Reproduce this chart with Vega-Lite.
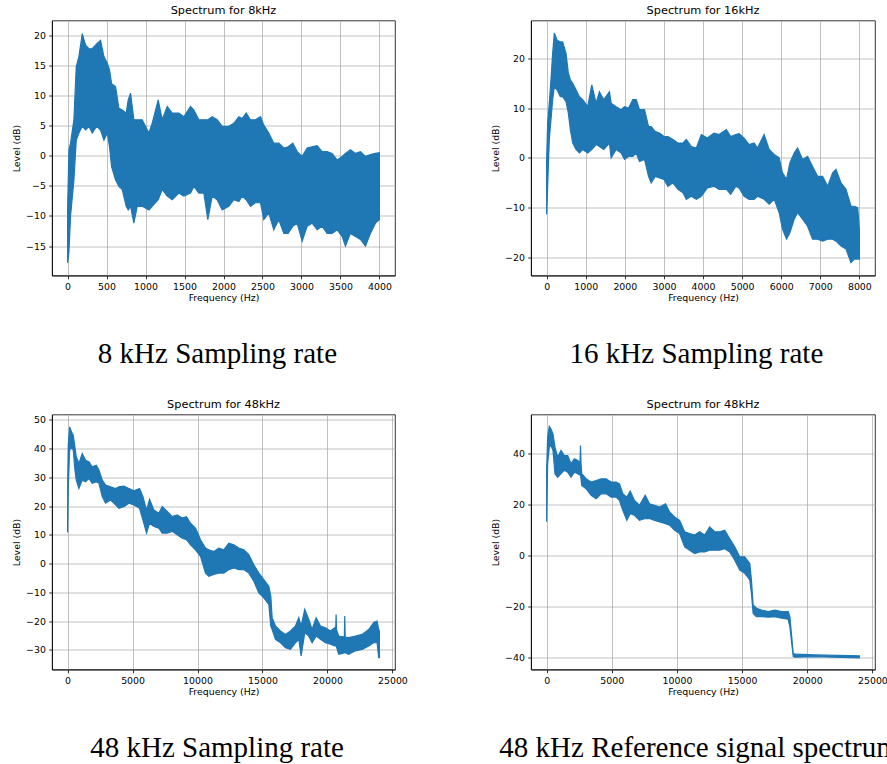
{
"$schema": "https://vega.github.io/schema/vega-lite/v6.json",
"padding": {"left": 11, "top": 4.5, "right": 0, "bottom": 0},
"background": "white",
"config": {
  "font": "DejaVu Sans",
  "view": {"stroke": "#000", "strokeWidth": 0.8},
  "axis": {"labelFont": "DejaVu Sans", "labelFontSize": 9.4, "labelColor": "#000", "titleFont": "DejaVu Sans", "titleFontSize": 9.4, "titleFontWeight": "normal", "titleColor": "#000", "tickColor": "#000", "tickSize": 3.3, "tickWidth": 0.8, "domainColor": "#000", "domainWidth": 0.8, "gridColor": "#b0b0b0", "gridWidth": 0.8, "labelPadding": 3.3, "grid": true, "labelFlush": false, "labelOverlap": false},
  "axisY": {"titlePadding": 3.8},
  "axisX": {"titlePadding": 2.5},
  "title": {"font": "DejaVu Sans", "fontSize": 11.3, "fontWeight": "normal", "color": "#000", "offset": 4.3, "frame": "group", "anchor": "middle"},
  "area": {"color": "#1f77b4", "opacity": 1}
},
"datasets": {
"a": [{"f":0,"lo":-17.8,"hi":-9},{"f":17,"lo":-16,"hi":1.0},{"f":38,"lo":-10,"hi":2.1},{"f":81,"lo":-4,"hi":6},{"f":111,"lo":2.6,"hi":14.8},{"f":145,"lo":3.8,"hi":16.5},{"f":188,"lo":4.9,"hi":20.3},{"f":231,"lo":4.3,"hi":18.4},{"f":274,"lo":4.9,"hi":17.8},{"f":316,"lo":3.8,"hi":17.8},{"f":372,"lo":4.9,"hi":18.6},{"f":423,"lo":4.3,"hi":19.2},{"f":466,"lo":2.6,"hi":16.5},{"f":509,"lo":3.8,"hi":15.4},{"f":538,"lo":1.5,"hi":14.3},{"f":564,"lo":-1.8,"hi":12.0},{"f":615,"lo":-4.0,"hi":11.5},{"f":658,"lo":-5.1,"hi":7.9},{"f":701,"lo":-5.6,"hi":7.6},{"f":752,"lo":-8.4,"hi":7.1},{"f":778,"lo":-9.0,"hi":9.3},{"f":808,"lo":-8.4,"hi":10.4},{"f":850,"lo":-11.2,"hi":6.0},{"f":893,"lo":-8.4,"hi":6.0},{"f":957,"lo":-8.4,"hi":6.0},{"f":1043,"lo":-9.0,"hi":3.8},{"f":1085,"lo":-8.4,"hi":5.4},{"f":1162,"lo":-7.3,"hi":9.3},{"f":1214,"lo":-5.6,"hi":6.0},{"f":1278,"lo":-6.7,"hi":8.2},{"f":1342,"lo":-7.3,"hi":7.1},{"f":1427,"lo":-6.2,"hi":7.1},{"f":1491,"lo":-6.7,"hi":6.5},{"f":1577,"lo":-6.2,"hi":8.2},{"f":1620,"lo":-5.1,"hi":7.6},{"f":1684,"lo":-6.2,"hi":6.0},{"f":1748,"lo":-6.2,"hi":6.0},{"f":1799,"lo":-10.6,"hi":6.0},{"f":1855,"lo":-6.7,"hi":6.5},{"f":1919,"lo":-7.3,"hi":6.0},{"f":1983,"lo":-9.0,"hi":4.9},{"f":2068,"lo":-8.4,"hi":4.9},{"f":2132,"lo":-7.3,"hi":5.4},{"f":2197,"lo":-7.6,"hi":6.5},{"f":2239,"lo":-6.7,"hi":6.2},{"f":2291,"lo":-7.3,"hi":7.1},{"f":2346,"lo":-8.4,"hi":6.0},{"f":2410,"lo":-7.8,"hi":6.0},{"f":2474,"lo":-7.8,"hi":6.5},{"f":2517,"lo":-10.6,"hi":5.1},{"f":2581,"lo":-9.5,"hi":3.8},{"f":2645,"lo":-12.3,"hi":2.1},{"f":2709,"lo":-10.6,"hi":2.1},{"f":2774,"lo":-12.9,"hi":1.3},{"f":2829,"lo":-12.9,"hi":1.5},{"f":2889,"lo":-11.7,"hi":2.1},{"f":2945,"lo":-11.2,"hi":0.7},{"f":3009,"lo":-14.2,"hi":-0.1},{"f":3073,"lo":-11.7,"hi":1.3},{"f":3137,"lo":-11.2,"hi":1.5},{"f":3201,"lo":-12.3,"hi":1.7},{"f":3265,"lo":-11.7,"hi":0.7},{"f":3329,"lo":-12.9,"hi":0.7},{"f":3393,"lo":-12.9,"hi":0.4},{"f":3458,"lo":-12.3,"hi":-0.7},{"f":3522,"lo":-13.4,"hi":-0.1},{"f":3564,"lo":-15.0,"hi":0.4},{"f":3628,"lo":-12.9,"hi":1.0},{"f":3693,"lo":-13.4,"hi":0.4},{"f":3757,"lo":-13.9,"hi":0.7},{"f":3821,"lo":-15.0,"hi":-0.1},{"f":3885,"lo":-12.9,"hi":0.2},{"f":3949,"lo":-11.2,"hi":0.4},{"f":4000,"lo":-10.6,"hi":0.5}],
"b": [{"f":0,"lo":-11.3,"hi":-0.3},{"f":26,"lo":-5.7,"hi":7.0},{"f":68,"lo":3.7,"hi":11.0},{"f":111,"lo":7.7,"hi":15.7},{"f":154,"lo":11.7,"hi":21.0},{"f":197,"lo":14.3,"hi":25.1},{"f":265,"lo":13.7,"hi":23.7},{"f":350,"lo":12.3,"hi":23.3},{"f":410,"lo":12.3,"hi":23.3},{"f":496,"lo":11.3,"hi":21.0},{"f":556,"lo":9.0,"hi":17.0},{"f":607,"lo":5.7,"hi":15.7},{"f":667,"lo":3.0,"hi":15.0},{"f":752,"lo":1.7,"hi":13.7},{"f":838,"lo":1.0,"hi":12.3},{"f":923,"lo":1.7,"hi":11.7},{"f":1051,"lo":1.0,"hi":10.3},{"f":1154,"lo":1.7,"hi":14.7},{"f":1265,"lo":2.7,"hi":11.0},{"f":1350,"lo":2.3,"hi":13.3},{"f":1462,"lo":1.7,"hi":11.7},{"f":1607,"lo":3.0,"hi":13.3},{"f":1650,"lo":0,"hi":11.0},{"f":1778,"lo":1.7,"hi":10.3},{"f":1906,"lo":1.0,"hi":9.7},{"f":1991,"lo":-0.3,"hi":10.3},{"f":2094,"lo":0.3,"hi":10.0},{"f":2205,"lo":0.3,"hi":11.7},{"f":2291,"lo":1.0,"hi":11.7},{"f":2376,"lo":-0.7,"hi":9.7},{"f":2504,"lo":-0.3,"hi":9.7},{"f":2607,"lo":-3.7,"hi":6.3},{"f":2675,"lo":-5.0,"hi":6.3},{"f":2778,"lo":-3.7,"hi":5.3},{"f":2889,"lo":-4.0,"hi":5.0},{"f":3000,"lo":-4.3,"hi":4.3},{"f":3103,"lo":-5.7,"hi":4.3},{"f":3231,"lo":-5.0,"hi":3.7},{"f":3359,"lo":-6.3,"hi":3.0},{"f":3487,"lo":-7.0,"hi":3.0},{"f":3573,"lo":-8.3,"hi":3.7},{"f":3701,"lo":-7.7,"hi":2.3},{"f":3829,"lo":-8.3,"hi":2.0},{"f":3957,"lo":-7.7,"hi":4.7},{"f":4111,"lo":-6.0,"hi":4.0},{"f":4282,"lo":-5.7,"hi":5.0},{"f":4410,"lo":-6.3,"hi":4.7},{"f":4598,"lo":-6.3,"hi":5.7},{"f":4709,"lo":-7.3,"hi":4.3},{"f":4838,"lo":-5.7,"hi":4.7},{"f":4923,"lo":-6.0,"hi":4.9},{"f":5051,"lo":-7.7,"hi":4.0},{"f":5179,"lo":-8.3,"hi":2.7},{"f":5308,"lo":-8.3,"hi":3.0},{"f":5393,"lo":-7.7,"hi":2.0},{"f":5564,"lo":-8.3,"hi":4.7},{"f":5692,"lo":-9.3,"hi":1.7},{"f":5821,"lo":-8.3,"hi":0.7},{"f":5949,"lo":-11.0,"hi":0},{"f":6034,"lo":-14.3,"hi":-3.0},{"f":6137,"lo":-16.3,"hi":-4.3},{"f":6222,"lo":-15.0,"hi":-1.0},{"f":6333,"lo":-12.3,"hi":1.0},{"f":6419,"lo":-11.0,"hi":2.0},{"f":6547,"lo":-12.3,"hi":-0.3},{"f":6675,"lo":-13.7,"hi":0.3},{"f":6803,"lo":-16.3,"hi":-1.7},{"f":6932,"lo":-16.3,"hi":-3.7},{"f":7060,"lo":-16.7,"hi":-3.7},{"f":7188,"lo":-16.3,"hi":-5.7},{"f":7316,"lo":-16.3,"hi":-3.0},{"f":7402,"lo":-16.7,"hi":-2.3},{"f":7530,"lo":-17.7,"hi":-5.0},{"f":7658,"lo":-18.3,"hi":-6.3},{"f":7786,"lo":-21.0,"hi":-9.7},{"f":7872,"lo":-20.3,"hi":-9.7},{"f":7957,"lo":-20.3,"hi":-10.0},{"f":8000,"lo":-20.3,"hi":-14.3}],
"c": [{"f":0,"lo":10.8,"hi":14},{"f":10,"lo":12,"hi":29},{"f":51,"lo":25.6,"hi":41.1},{"f":154,"lo":39.4,"hi":47.5},{"f":308,"lo":40.5,"hi":45.7},{"f":436,"lo":39.4,"hi":44.6},{"f":564,"lo":32.5,"hi":40.5},{"f":667,"lo":29.0,"hi":37.1},{"f":872,"lo":26.1,"hi":34.8},{"f":1128,"lo":29.0,"hi":38.2},{"f":1385,"lo":28.4,"hi":35.9},{"f":1641,"lo":29.6,"hi":35.4},{"f":1897,"lo":27.9,"hi":33.6},{"f":2205,"lo":28.4,"hi":34.2},{"f":2410,"lo":28.0,"hi":32.5},{"f":2667,"lo":23.3,"hi":29.0},{"f":2923,"lo":21.0,"hi":27.3},{"f":3308,"lo":22.1,"hi":26.7},{"f":3692,"lo":20.4,"hi":26.1},{"f":3949,"lo":19.2,"hi":26.7},{"f":4333,"lo":19.8,"hi":26.9},{"f":4718,"lo":21.0,"hi":26.1},{"f":5103,"lo":20.4,"hi":25.3},{"f":5538,"lo":19.2,"hi":26.1},{"f":5795,"lo":15.2,"hi":23.3},{"f":6077,"lo":10.6,"hi":18.6},{"f":6308,"lo":14.0,"hi":22.3},{"f":6641,"lo":12.9,"hi":18.6},{"f":7026,"lo":12.3,"hi":17.5},{"f":7282,"lo":10.6,"hi":19.8},{"f":7667,"lo":10.6,"hi":18.1},{"f":8051,"lo":11.2,"hi":16.3},{"f":8436,"lo":10.0,"hi":16.9},{"f":8821,"lo":8.8,"hi":15.8},{"f":9154,"lo":8.3,"hi":16.3},{"f":9462,"lo":6.5,"hi":14.0},{"f":9846,"lo":4.8,"hi":12.3},{"f":10231,"lo":2.5,"hi":8.3},{"f":10615,"lo":-3.3,"hi":5.4},{"f":10872,"lo":-4.4,"hi":4.8},{"f":11256,"lo":-3.8,"hi":4.2},{"f":11641,"lo":-3.3,"hi":5.4},{"f":12026,"lo":-3.3,"hi":4.8},{"f":12410,"lo":-2.1,"hi":7.1},{"f":12795,"lo":-1.5,"hi":6.5},{"f":13180,"lo":-2.1,"hi":5.4},{"f":13564,"lo":-2.1,"hi":4.8},{"f":13949,"lo":-3.3,"hi":3.1},{"f":14333,"lo":-6.1,"hi":-0.4},{"f":14718,"lo":-10.2,"hi":-3.3},{"f":15103,"lo":-11.9,"hi":-5.6},{"f":15487,"lo":-14.2,"hi":-7.9},{"f":15641,"lo":-21.7,"hi":-11.3},{"f":15744,"lo":-22.9,"hi":-18.8},{"f":16000,"lo":-26.3,"hi":-21.7},{"f":16385,"lo":-27.5,"hi":-23.4},{"f":16769,"lo":-29.2,"hi":-24.6},{"f":17154,"lo":-29.8,"hi":-23.4},{"f":17538,"lo":-27.5,"hi":-21.7},{"f":17795,"lo":-26.3,"hi":-18.8},{"f":17974,"lo":-32.1,"hi":-21.7},{"f":18256,"lo":-24.0,"hi":-15.9},{"f":18564,"lo":-25.2,"hi":-19.4},{"f":18821,"lo":-27.5,"hi":-22.9},{"f":19128,"lo":-25.2,"hi":-18.8},{"f":19462,"lo":-26.3,"hi":-21.7},{"f":19846,"lo":-27.5,"hi":-22.3},{"f":20231,"lo":-28.0,"hi":-23.4},{"f":20564,"lo":-28.6,"hi":-22.3},{"f":20640,"lo":-28.6,"hi":-22.5},{"f":20667,"lo":-28.5,"hi":-17.7},{"f":20700,"lo":-29,"hi":-23},{"f":20872,"lo":-31.5,"hi":-25.2},{"f":21300,"lo":-31,"hi":-25.5},{"f":21333,"lo":-31,"hi":-18.2},{"f":21366,"lo":-31,"hi":-25.5},{"f":21641,"lo":-31.5,"hi":-25.7},{"f":22154,"lo":-30.3,"hi":-25.2},{"f":22667,"lo":-29.8,"hi":-24.6},{"f":23179,"lo":-28.6,"hi":-22.9},{"f":23564,"lo":-27.5,"hi":-20.5},{"f":23821,"lo":-27.5,"hi":-20.0},{"f":23949,"lo":-32.7,"hi":-22.9},{"f":24000,"lo":-32.7,"hi":-23.5}],
"d": [{"f":0,"lo":13.2,"hi":33.4},{"f":77,"lo":36.0,"hi":46.4},{"f":205,"lo":42.5,"hi":50.6},{"f":333,"lo":43.1,"hi":49.6},{"f":487,"lo":41.2,"hi":47.7},{"f":641,"lo":32.1,"hi":42.5},{"f":846,"lo":30.7,"hi":38.6},{"f":1103,"lo":32.1,"hi":41.2},{"f":1359,"lo":33.4,"hi":39.2},{"f":1615,"lo":32.7,"hi":39.2},{"f":1872,"lo":30.7,"hi":36.0},{"f":2128,"lo":32.7,"hi":37.9},{"f":2385,"lo":32.1,"hi":37.3},{"f":2560,"lo":31.5,"hi":36.5},{"f":2600,"lo":31.5,"hi":43.1},{"f":2640,"lo":30,"hi":36},{"f":2692,"lo":27.5,"hi":32.1},{"f":3026,"lo":26.2,"hi":30.1},{"f":3410,"lo":23.6,"hi":28.8},{"f":3795,"lo":22.3,"hi":29.4},{"f":4179,"lo":24.2,"hi":30.1},{"f":4564,"lo":24.2,"hi":30.1},{"f":4949,"lo":22.9,"hi":28.8},{"f":5333,"lo":22.9,"hi":28.8},{"f":5590,"lo":21.6,"hi":28.1},{"f":5846,"lo":17.7,"hi":24.2},{"f":6154,"lo":13.8,"hi":22.9},{"f":6410,"lo":16.4,"hi":25.3},{"f":6744,"lo":15.8,"hi":21.6},{"f":7128,"lo":13.8,"hi":19.7},{"f":7564,"lo":14.5,"hi":23.6},{"f":7897,"lo":14.5,"hi":20.3},{"f":8282,"lo":13.8,"hi":19.7},{"f":8667,"lo":13.2,"hi":19.0},{"f":9128,"lo":12.5,"hi":20.3},{"f":9436,"lo":11.9,"hi":17.1},{"f":9821,"lo":9.9,"hi":15.1},{"f":10205,"lo":8.6,"hi":13.8},{"f":10590,"lo":3.4,"hi":9.3},{"f":10974,"lo":2.1,"hi":8.6},{"f":11359,"lo":0.8,"hi":8.0},{"f":11744,"lo":1.4,"hi":9.3},{"f":12128,"lo":1.4,"hi":8.0},{"f":12513,"lo":2.1,"hi":11.2},{"f":12897,"lo":2.1,"hi":9.3},{"f":13282,"lo":2.1,"hi":9.3},{"f":13667,"lo":2.7,"hi":9.9},{"f":14051,"lo":1.4,"hi":6.6},{"f":14436,"lo":-1.8,"hi":3.4},{"f":14821,"lo":-5.7,"hi":-0.5},{"f":15205,"lo":-7.0,"hi":-0.5},{"f":15590,"lo":-9.6,"hi":-3.1},{"f":15718,"lo":-14.9,"hi":-9.6},{"f":15846,"lo":-22.7,"hi":-19.4},{"f":16103,"lo":-24.0,"hi":-20.7},{"f":16487,"lo":-24.0,"hi":-21.4},{"f":17000,"lo":-24.2,"hi":-22.0},{"f":17513,"lo":-24.0,"hi":-21.4},{"f":18026,"lo":-24.6,"hi":-22.0},{"f":18538,"lo":-25.0,"hi":-22.0},{"f":18667,"lo":-27.9,"hi":-24.0},{"f":18923,"lo":-39.6,"hi":-38.3},{"f":19051,"lo":-39.9,"hi":-38.7},{"f":20590,"lo":-39.7,"hi":-39.0},{"f":24000,"lo":-40.1,"hi":-39.3}]
},
"spacing": 29,
"vconcat": [
 {"hconcat": [
  {"title": {"text": "8 kHz Sampling rate", "orient": "bottom", "font": "Liberation Serif", "fontSize": 29, "fontWeight": "normal", "color": "#000", "frame": "bounds", "anchor": "middle", "offset": 38.5, "dx": 14},
   "vconcat": [{
    "width": 343, "height": 255, "title": "Spectrum for 8kHz", "data": {"name": "a"},
    "mark": {"type": "area", "stroke": "#1f77b4", "strokeWidth": 1.2, "clip": true},
    "encoding": {
     "x": {"field": "f", "type": "quantitative", "scale": {"domain": [-200, 4200], "nice": false, "zero": false}, "axis": {"values": [0,500,1000,1500,2000,2500,3000,3500,4000], "format": "d", "title": "Frequency (Hz)"}},
     "y": {"field": "hi", "type": "quantitative", "scale": {"domain": [-19.9, 22.5], "nice": false, "zero": false}, "axis": {"values": [-15,-10,-5,0,5,10,15,20], "title": "Level (dB)", "labelExpr": "replace(datum.label, '-', '−')"}},
     "y2": {"field": "lo"}
    }
   }]},
  {"title": {"text": "16 kHz Sampling rate", "orient": "bottom", "font": "Liberation Serif", "fontSize": 29, "fontWeight": "normal", "color": "#000", "frame": "bounds", "anchor": "middle", "offset": 38.5, "dx": 13.5},
   "vconcat": [{
    "width": 344, "height": 255, "title": "Spectrum for 16kHz", "data": {"name": "b"},
    "mark": {"type": "area", "stroke": "#1f77b4", "strokeWidth": 1.2, "clip": true},
    "encoding": {
     "x": {"field": "f", "type": "quantitative", "scale": {"domain": [-400, 8400], "nice": false, "zero": false}, "axis": {"values": [0,1000,2000,3000,4000,5000,6000,7000,8000], "format": "d", "title": "Frequency (Hz)"}},
     "y": {"field": "hi", "type": "quantitative", "scale": {"domain": [-23.6, 27.6], "nice": false, "zero": false}, "axis": {"values": [-20,-10,0,10,20], "title": "Level (dB)", "labelExpr": "replace(datum.label, '-', '−')"}},
     "y2": {"field": "lo"}
    }
   }]}
 ], "spacing": 94},
 {"hconcat": [
  {"title": {"text": "48 kHz Sampling rate", "orient": "bottom", "font": "Liberation Serif", "fontSize": 29, "fontWeight": "normal", "color": "#000", "frame": "bounds", "anchor": "middle", "offset": 38.5, "dx": 7.5},
   "vconcat": [{
    "width": 343, "height": 255, "title": "Spectrum for 48kHz", "data": {"name": "c"},
    "mark": {"type": "area", "stroke": "#1f77b4", "strokeWidth": 1.2, "clip": true},
    "encoding": {
     "x": {"field": "f", "type": "quantitative", "scale": {"domain": [-1200, 25200], "nice": false, "zero": false}, "axis": {"values": [0,5000,10000,15000,20000,25000], "format": "d", "title": "Frequency (Hz)"}},
     "y": {"field": "hi", "type": "quantitative", "scale": {"domain": [-36.8, 51.8], "nice": false, "zero": false}, "axis": {"values": [-30,-20,-10,0,10,20,30,40,50], "title": "Level (dB)", "labelExpr": "replace(datum.label, '-', '−')"}},
     "y2": {"field": "lo"}
    }
   }]},
  {"title": {"text": "48 kHz Reference signal spectrum", "orient": "bottom", "font": "Liberation Serif", "fontSize": 29, "fontWeight": "normal", "color": "#000", "frame": "bounds", "anchor": "middle", "offset": 38.5, "dx": 10},
   "vconcat": [{
    "width": 344, "height": 255, "title": "Spectrum for 48kHz", "data": {"name": "d"},
    "mark": {"type": "area", "stroke": "#1f77b4", "strokeWidth": 1.2, "clip": true},
    "encoding": {
     "x": {"field": "f", "type": "quantitative", "scale": {"domain": [-1200, 25200], "nice": false, "zero": false}, "axis": {"values": [0,5000,10000,15000,20000,25000], "format": "d", "title": "Frequency (Hz)"}},
     "y": {"field": "hi", "type": "quantitative", "scale": {"domain": [-44.7, 55.3], "nice": false, "zero": false}, "axis": {"values": [-40,-20,0,20,40], "title": "Level (dB)", "labelExpr": "replace(datum.label, '-', '−')"}},
     "y2": {"field": "lo"}
    }
   }]}
 ], "spacing": 82}
]
}
